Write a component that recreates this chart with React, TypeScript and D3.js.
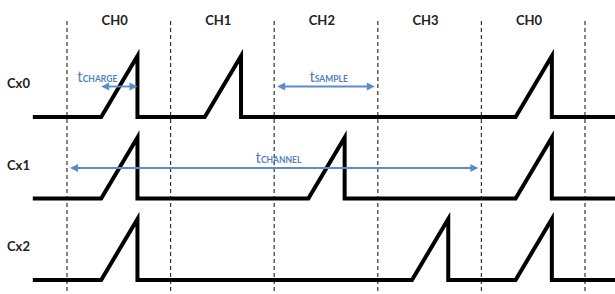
import * as d3 from "d3";

// channel slots along the top, one per conversion window
const channels = ["CH0", "CH1", "CH2", "CH3", "CH0"];
const rows = ["Cx0", "Cx1", "Cx2"];
// slot index where each row gets its charge pulse
const pulseSlots = [
  [0, 1, 4],
  [0, 2, 4],
  [0, 3, 4],
];
// pulse shape inside a slot (slot units)
const rampStart = 0.33;
const rampEnd = 0.68;
const timeStart = -0.33;
const timeEnd = 5.3;

// timing annotations
const spanNames = ["CHARGE", "SAMPLE", "CHANNEL"];
const spanRows = [0, 0, 1];
const spanFrom = [0.33, 2, 0];
const spanTo = [0.68, 3, 4];
const spanLabelAt = [0.1, 2.34, 1.82];
const spanDouble = [true, true, true];

const W = 615;
const H = 294;
const BLUE = "#5b8dcc";
const BLUE_TEXT = "#4f7fc0";

export default function App() {
  const x = d3.scaleLinear().domain([0, 5]).range([67, 585]);
  const rowY = d3.scaleLinear().domain([0, 2]).range([117, 280]);
  const amp = d3.scaleLinear().domain([0, 1]).range([0, -61]);

  const line = d3
    .line<[number, number]>()
    .x((d) => x(d[0]))
    .y((d) => d[1]);

  const wave = (ri: number) => {
    const base = rowY(ri);
    const pts: [number, number][] = [[timeStart, base]];
    pulseSlots[ri].forEach((s) => {
      pts.push([s + rampStart, base]);
      pts.push([s + rampEnd, base + amp(1)]);
      pts.push([s + rampEnd, base]);
    });
    pts.push([timeEnd, base]);
    return line(pts) || "";
  };

  const head = (tx: number, y: number, dir: number) => {
    const len = 8;
    const hw = 4;
    return `M${tx},${y}L${tx - dir * len},${y - hw}L${tx - dir * len},${y + hw}Z`;
  };

  const boundaries = d3.range(0, 6);

  return (
    <svg
      width={W}
      height={H}
      style={{ position: "absolute", left: 0, top: 0, background: "#fff" }}
    >
      {/* slot boundaries */}
      {boundaries.map((b) => (
        <line
          key={b}
          x1={x(b)}
          x2={x(b)}
          y1={21}
          y2={H}
          stroke="#333"
          strokeWidth={1.2}
          strokeDasharray="4,3"
        />
      ))}

      {/* channel labels */}
      {channels.map((c, i) => (
        <text
          key={i}
          x={x(i + 0.46)}
          y={22}
          textAnchor="middle"
          dominantBaseline="middle"
          fontFamily="Lato, 'Open Sans', sans-serif"
          fontWeight="bold"
          fontSize={13}
          fill="#222"
        >
          {c}
        </text>
      ))}

      {/* row labels */}
      {rows.map((r, i) => (
        <text
          key={r}
          x={7}
          y={rowY(i) - 32}
          dominantBaseline="middle"
          fontFamily="Lato, 'Open Sans', sans-serif"
          fontWeight="bold"
          fontSize={13}
          fill="#222"
        >
          {r}
        </text>
      ))}

      {/* waveforms */}
      {rows.map((r, i) => (
        <path
          key={r}
          d={wave(i)}
          fill="none"
          stroke="#000"
          strokeWidth={4}
          strokeLinejoin="miter"
        />
      ))}

      {/* timing arrows */}
      {spanNames.map((name, i) => {
        const y = rowY(spanRows[i]) + amp(0.5);
        const inset = i === 0 ? 0 : 3;
        const x0 = x(spanFrom[i]) + inset;
        const x1 = x(spanTo[i]) - inset;
        return (
          <g key={name}>
            <line
              x1={x0 + 4}
              x2={x1 - 4}
              y1={y}
              y2={y}
              stroke={BLUE}
              strokeWidth={1.8}
            />
            {spanDouble[i] && <path d={head(x0, y, -1)} fill={BLUE} />}
            <path d={head(x1, y, 1)} fill={BLUE} />
            <text
              x={x(spanLabelAt[i])}
              y={y - 5}
              fontFamily="Lato, 'Open Sans', sans-serif"
              fill={BLUE_TEXT}
            >
              <tspan fontSize={15}>t</tspan>
              <tspan fontSize={8.5} fontWeight="bold">
                {name}
              </tspan>
            </text>
          </g>
        );
      })}
    </svg>
  );
}
